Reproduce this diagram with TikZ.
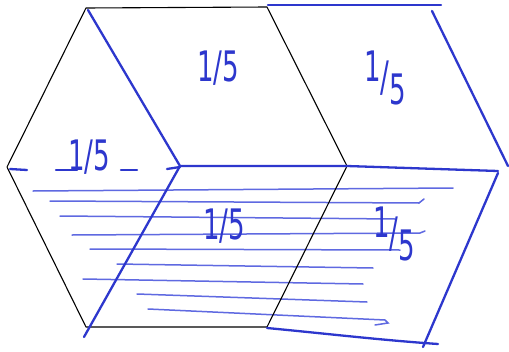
\documentclass[tikz,border=0pt]{standalone}
\usepackage{fontspec}
\setmainfont{DejaVu Sans}
\begin{document}
\begin{tikzpicture}[x=1pt,y=-1pt]
\definecolor{pen}{RGB}{45,55,205}
\definecolor{penlight}{RGB}{95,105,225}
\tikzset{
  hexedge/.style={black,line width=1.1pt,line join=round},
  bold/.style={pen,line width=2.3pt,line cap=round,line join=round},
  hatch/.style={penlight,line width=1.5pt,line cap=round},
  frac/.style={text=pen,font=\fontsize{42}{42}\selectfont,inner sep=0pt}
}
\newcommand{\fr}[1]{\scalebox{0.62}[1]{#1}}
\useasboundingbox (0,0) rectangle (509,351);
\fill[white] (0,0) rectangle (509,351);
% hexagon vertices
\coordinate (A) at (86,8);
\coordinate (B) at (267,7);
\coordinate (C) at (347,166);
\coordinate (D) at (267,327);
\coordinate (E) at (86,327);
\coordinate (F) at (7,167);
\coordinate (O) at (180,166);
% hatch lines
\draw[hatch] (33,191) -- (453,188);
\draw[hatch] (50,201) -- (419,203) -- (424,199);
\draw[hatch] (60,216) -- (395,219);
\draw[hatch] (72,235) -- (420,233) -- (425,231);
\draw[hatch] (90,249) -- (400,250);
\draw[hatch] (117,264) -- (373,268);
\draw[hatch] (83,279) -- (363,284);
\draw[hatch] (137,294) -- (367,302);
\draw[hatch] (148,309) -- (385,320) -- (388,323) -- (375,325);
% black hexagon
\draw[hexedge] (A) -- (B) -- (C) -- (D) -- (E) -- (F) -- cycle;
% blue lines
\coordinate (Ae) at (88,10);
\coordinate (Ee) at (84,337);
\coordinate (R1) at (498,171);
\coordinate (T1) at (268,5);
\coordinate (T2) at (441,5);
\coordinate (U1) at (432,11);
\coordinate (U2) at (508,166);
\coordinate (L1) at (498,173);
\coordinate (L2) at (423,347);
\coordinate (M1) at (267,328);
\coordinate (M2) at (438,344);
\draw[bold] (Ae) -- (O) -- (Ee);
\draw[bold] (O) -- (C) -- (R1);
\draw[bold] (T1) -- (T2);
\draw[bold] (U1) -- (U2);
\draw[bold] (L1) -- (L2);
\draw[bold] (M1) .. controls (330,334) and (380,340) .. (M2);
% dashes on the left
\draw[bold] (10,169) -- (27,170);
\draw[bold] (56,170) -- (77,170);
\draw[bold] (121,170) -- (137,170);
\draw[bold] (167,169) -- (180,167);
% labels
\node[frac] (l1) at (218,68) {\fr{1/5}};
\node[frac] (l2) at (385,78) {\fr{\raisebox{0.25em}{1}/\raisebox{-0.3em}{5}}};
\node[frac] (l3) at (89,157) {\fr{1/5}};
\node[frac] (l4) at (224,226) {\fr{1/5}};
\node[frac] (l5) at (394,234) {\fr{\raisebox{0.25em}{1}/\raisebox{-0.3em}{5}}};
\end{tikzpicture}
\end{document}
